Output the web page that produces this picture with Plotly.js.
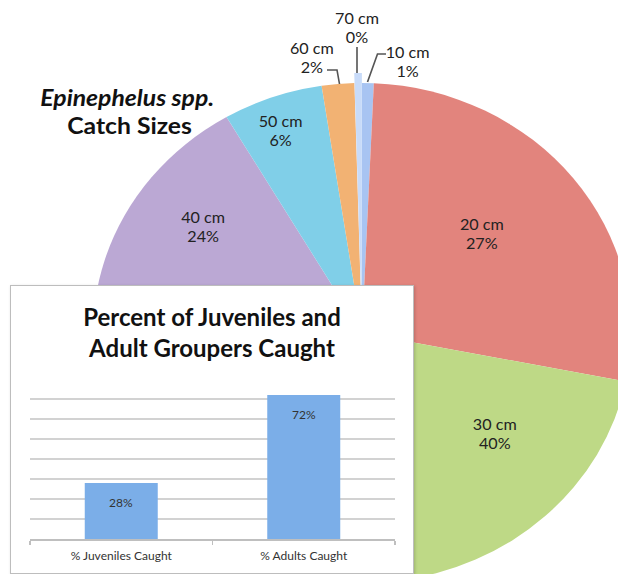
<!DOCTYPE html>
<html><head><meta charset="utf-8">
<script src="https://cdn.plot.ly/plotly-3.0.1.min.js"></script>
<style>
html,body{margin:0;padding:0;background:#fff;overflow:hidden;width:618px;height:574px;}
#pie{position:absolute;left:0;top:0;width:700px;height:700px;transform-origin:362px 333px;}
#bars{position:absolute;left:10px;top:285px;width:402px;height:287px;border:1px solid #bdbdbd;background:#fff;box-shadow:1px 1px 3px rgba(0,0,0,0.18);}
</style></head><body>
<div id="pie"></div><div id="bars"></div>
<script>
// ---- data ----
const sizeLabels = ['10 cm', '20 cm', '30 cm', '40 cm', '50 cm', '60 cm', '70 cm'];
const sizeShares = [0.7, 27.4, 39.9, 23.6, 6.0, 1.95, 0.45];
const pieTitleLines = ['Epinephelus spp.', 'Catch Sizes'];
const barCategories = ['% Juveniles Caught', '% Adults Caught'];
const barValues = [28, 72];
const barTitleLines = ['Percent of Juveniles and', 'Adult Groupers Caught'];

// ---- style ----
const sliceColors = ['#A8C4F2', '#E2847D', '#BED986', '#BBA8D4', '#80CFE8', '#F2B273', '#C8DBF9'];
const slicePull = [0, 0, 0, 0, 0, 0, 0.04];
const FONT = 'Lato, "Open Sans", sans-serif';

// pie geometry: the reference pie is drawn slightly wider than tall
const W = 700, H = 700, CX = 362, CY = 333, R = 250, SX = 1.076;
document.getElementById('pie').style.transform = 'scaleX(' + SX + ')';
const maxPull = Math.max.apply(null, slicePull);
const half = R * (1 + maxPull);
// convert a target screen pixel to paper coords of the (stretched) pie div
const P = (x, y) => ({x: (CX + (x - CX) / SX) / W, y: 1 - y / H});

const total = sizeShares.reduce((a, b) => a + b, 0);
const pctText = i => sizeLabels[i] + '<br>' + Math.round(100 * sizeShares[i] / total) + '%';

const labelPos = {
  '10 cm': [408, 61.5], '20 cm': [482, 233.5], '30 cm': [494.5, 434.5],
  '40 cm': [203, 227.5], '50 cm': [281, 131], '60 cm': [312, 57.5], '70 cm': [357, 28]
};

const pieAnn = sizeLabels.map((lab, i) => {
  const p = P(labelPos[lab][0], labelPos[lab][1]);
  return {xref: 'paper', yref: 'paper', x: p.x, y: p.y, xanchor: 'center', yanchor: 'middle',
    text: pctText(i), showarrow: false, font: {family: FONT, size: 15, color: '#222'}};
});
const t1 = P(127, 97), t2 = P(130, 125);
pieAnn.push({xref: 'paper', yref: 'paper', x: t1.x, y: t1.y, xanchor: 'center', yanchor: 'middle',
  text: '<b><i>' + pieTitleLines[0] + '</i></b>', showarrow: false, font: {family: FONT, size: 23, color: '#111'}});
pieAnn.push({xref: 'paper', yref: 'paper', x: t2.x, y: t2.y, xanchor: 'center', yanchor: 'middle',
  text: '<b>' + pieTitleLines[1] + '</b>', showarrow: false, font: {family: FONT, size: 23, color: '#111'}});

function pathPx(pts) {
  return pts.map((q, k) => { const p = P(q[0], q[1]); return (k ? 'L' : 'M') + p.x + ',' + p.y; }).join(' ');
}
const leader = {type: 'path', xref: 'paper', yref: 'paper', line: {color: '#555', width: 1.5}};
const pieShapes = [
  Object.assign({path: pathPx([[327, 70], [337, 70], [339.5, 84]])}, leader),
  Object.assign({path: pathPx([[357, 47], [357, 73]])}, leader),
  Object.assign({path: pathPx([[386, 54], [377.5, 54], [367.5, 82]])}, leader)
];

Plotly.newPlot('pie', [{
  type: 'pie', labels: sizeLabels, values: sizeShares, sort: false, direction: 'clockwise', rotation: 0,
  pull: slicePull, marker: {colors: sliceColors, line: {width: 0}}, textinfo: 'none', hoverinfo: 'label+percent',
  domain: {x: [(CX - half) / W, (CX + half) / W], y: [1 - (CY + half) / H, 1 - (CY - half) / H]}
}], {
  width: W, height: H, margin: {l: 0, r: 0, t: 0, b: 0}, showlegend: false,
  paper_bgcolor: 'rgba(0,0,0,0)', annotations: pieAnn, shapes: pieShapes
}, {staticPlot: true, displayModeBar: false});

// ---- inset bar chart ----
Plotly.newPlot('bars', [{
  type: 'bar', x: barCategories, y: barValues, width: 0.4,
  marker: {color: '#7BAEE8', line: {width: 0}}, hoverinfo: 'x+y'
}], {
  width: 402, height: 287, margin: {l: 19, r: 18, t: 93, b: 34},
  paper_bgcolor: '#fff', plot_bgcolor: '#fff', showlegend: false,
  title: {text: '<b>' + barTitleLines.join('<br>') + '</b>', font: {family: FONT, size: 24, color: '#111'},
    x: 0.5, xref: 'container', xanchor: 'center', y: 1 - 39.5 / 287, yref: 'container', yanchor: 'middle'},
  xaxis: {showline: true, linecolor: '#BFBFBF', linewidth: 1.5, ticks: 'outside', tickson: 'boundaries',
    ticklen: 4, tickcolor: '#BFBFBF', tickwidth: 1.5, tickfont: {family: FONT, size: 12, color: '#333'},
    showgrid: false, zeroline: false, ticklabelstandoff: 5},
  yaxis: {range: [0, 80], dtick: 10, showgrid: true, gridcolor: '#D2D2D2', gridwidth: 2,
    showticklabels: false, zeroline: false, showline: false, ticks: ''},
  annotations: barCategories.map((c, i) => ({x: c, y: barValues[i], xref: 'x', yref: 'y',
    text: barValues[i] + '%', showarrow: false, yanchor: 'top', yshift: -10,
    font: {family: FONT, size: 12, color: '#333'}}))
}, {staticPlot: true, displayModeBar: false});
</script>
</body></html>
